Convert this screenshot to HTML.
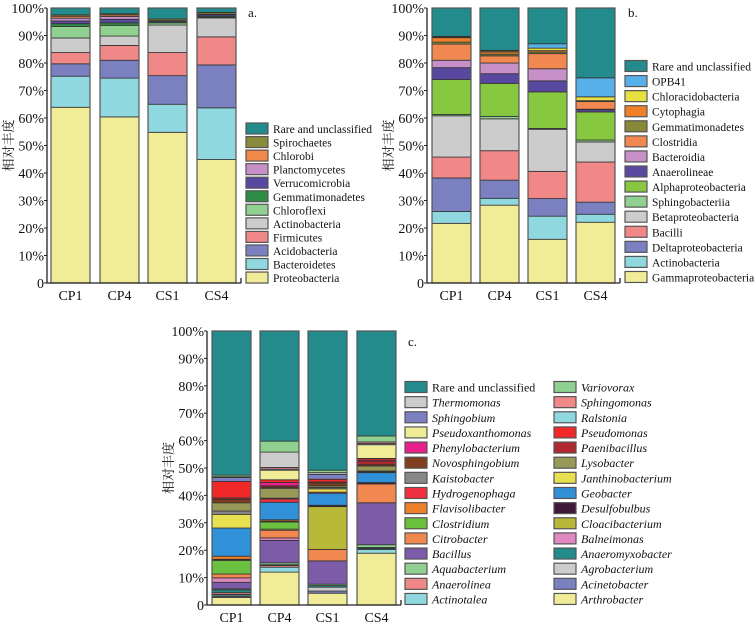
<!DOCTYPE html>
<html><head><meta charset="utf-8"><style>
body{margin:0;background:#fff;}
svg text{font-family:"Liberation Serif","Noto Serif CJK SC",serif;fill:#111;}
</style></head><body>
<svg id="chart" width="756" height="624" xmlns="http://www.w3.org/2000/svg"></svg>
<script>
const NS="http://www.w3.org/2000/svg";
const categories=["CP1","CP4","CS1","CS4"];
const yTicks=[0,10,20,30,40,50,60,70,80,90,100];
const yTickLabels=["0","10%","20%","30%","40%","50%","60%","70%","80%","90%","100%"];

// Panel a (bottom to top)
const aNames=["Proteobacteria","Bacteroidetes","Acidobacteria","Firmicutes","Actinobacteria","Chloroflexi","Gemmatimonadetes","Verrucomicrobia","Planctomycetes","Chlorobi","Spirochaetes","Rare and unclassified"];
const aColors=["#f0ec98","#90d8e0","#7a80c0","#f08888","#cccccc","#90d090","#2e8b45","#5848a0","#c890c8","#f08848","#8a8a3c","#238b8b"];
const aValues=[
[63.9,60.4,54.8,44.9],[11.3,14.1,10.2,18.8],[4.5,6.5,10.4,15.6],[4.1,5.4,8.4,10.2],
[5.3,3.4,10.0,6.9],[4.2,3.9,0.8,0.3],[1.0,0.9,0.4,0.4],[1.0,1.3,0.4,0.5],
[1.0,1.0,0,0],[0.7,0.6,0,0.2],[0.5,0.4,0.6,0.6],[2.5,2.1,4.0,1.6]];

// Panel b
const bNames=["Gammaproteobacteria","Actinobacteria","Deltaproteobacteria","Bacilli","Betaproteobacteria","Sphingobacteriia","Alphaproteobacteria","Anaerolineae","Bacteroidia","Clostridia","Gemmatimonadetes","Cytophagia","Chloracidobacteria","OPB41","Rare and unclassified"];
const bColors=["#f0ec98","#90d8e0","#7a80c0","#f08888","#cccccc","#90d090","#88c840","#5848a0","#c890c8","#f08850","#888838","#f08028","#e8e040","#58b0e8","#238b8b"];
const bValues=[
[21.7,28.3,15.9,22.1],[4.3,2.5,8.4,2.9],[12.2,6.6,6.4,4.4],[7.6,10.7,9.9,14.6],
[15.0,11.6,15.3,7.3],[0.5,0.9,0.3,0.7],[12.7,12.0,13.3,10.2],[4.3,3.5,4.0,0.8],
[2.7,3.9,4.4,0.2],[5.9,2.6,5.5,2.8],[0.7,0.6,0.6,0.1],[1.6,0.8,0.5,0.2],
[0.2,0.4,0.9,1.4],[0.3,0.2,1.6,6.9],[10.3,15.4,13.0,25.4]];

// Panel c (bottom to top)
const cNames=["Arthrobacter","Acinetobacter","Actinotalea","Agrobacterium","Anaerolinea","Anaeromyxobacter","Aquabacterium","Bacillus","Balneimonas","Citrobacter","Cloacibacterium","Clostridium","Desulfobulbus","Flavisolibacter","Geobacter","Hydrogenophaga","Janthinobacterium","Kaistobacter","Lysobacter","Novosphingobium","Paenibacillus","Phenylobacterium","Pseudomonas","Pseudoxanthomonas","Ralstonia","Sphingobium","Sphingomonas","Thermomonas","Variovorax","Rare and unclassified"];
const cColors=["#f0ec98","#7a80c0","#90d8e0","#cccccc","#f08888","#238b8b","#90d090","#7c5ca8","#e088c0","#f08850","#b8b838","#6cc040","#401838","#f08028","#3090d8","#f03040","#e8e050","#888888","#989858","#804020","#b02830","#e8208c","#f02828","#f0ec98","#90d8e0","#7a80c0","#f08888","#cccccc","#90d090","#238b8b"];
const cValues=[
[2.7,12.0,4.3,18.9],[0.4,0,0.8,0],[0.5,1.8,0,1.4],[0.3,0,1.4,0],[0.6,0.6,0,0.3],
[1.0,0.3,0.6,0.4],[0.4,0.7,0.5,1.0],[2.4,8.2,8.5,15.3],[1.6,0.9,0,0],[1.4,2.8,4.2,6.9],
[0,0.4,15.6,0],[5.0,2.6,0,0],[0.4,0.3,0.5,0.5],[1.1,0.5,0,0],[10.3,6.4,4.4,3.6],
[0,1.2,0.4,0],[5.0,0,1.2,0.3],[1.2,0.3,0.5,0.3],[3.0,3.6,0.6,1.8],[1.2,0.4,1.0,0.5],
[0.6,0.5,0.4,1.3],[0,1.2,0,0.4],[6.0,1.0,1.0,0.6],[0,3.5,0,5.0],[0,0,0,0],
[1.4,0.4,1.8,0.4],[0.3,0.6,0,0.6],[0,5.6,0.6,0],[0.6,4.0,0.9,2.2],[52.6,40.2,50.8,38.3]];
// Panel c legend order (column-major, as printed)
const cLegendOrder=["Rare and unclassified","Thermomonas","Sphingobium","Pseudoxanthomonas","Phenylobacterium","Novosphingobium","Kaistobacter","Hydrogenophaga","Flavisolibacter","Clostridium","Citrobacter","Bacillus","Aquabacterium","Anaerolinea","Actinotalea",
"Variovorax","Sphingomonas","Ralstonia","Pseudomonas","Paenibacillus","Lysobacter","Janthinobacterium","Geobacter","Desulfobulbus","Cloacibacterium","Balneimonas","Anaeromyxobacter","Agrobacterium","Acinetobacter","Arthrobacter"];

const svg=document.getElementById('chart');
function mk(tag,attrs,parent){const e=document.createElementNS(NS,tag);for(const k in attrs)e.setAttribute(k,attrs[k]);(parent||svg).appendChild(e);return e;}

function drawPanel(p,names,colors,values,legendOrder){
  const g=mk('g',{});
  
  
  const yS=v=>p.y0-(v/100)*(p.y0-p.y100);
  categories.forEach((c,ci)=>{
    let cum=0;
    const x=p.barX[ci];
    values.forEach((vals,si)=>{
      const v=vals[ci]; if(v<=0)return;
      const r=mk('rect',{x:x,y:yS(cum+v),width:p.barW,height:yS(cum)-yS(cum+v),fill:colors[si],stroke:'#333',"stroke-width":0.8},g);
      
      
      cum+=v;
    });
    const o=mk('rect',{x:x,y:yS(100),width:p.barW,height:yS(0)-yS(100),fill:'none',stroke:'#555',"stroke-width":1.2},g);
    
    
    const t=mk('text',{x:x+p.barW/2,y:p.y0+17,"text-anchor":"middle","font-size":14},g);
    t.textContent=c;
    
    
  });
  const ya=mk('line',{x1:p.ax,y1:p.y100,x2:p.ax,y2:p.y0,stroke:'#222',"stroke-width":1.3},g);
  
  
  const xa=mk('line',{x1:p.ax,y1:p.y0,x2:p.axEnd,y2:p.y0,stroke:'#222',"stroke-width":1.3},g);
  
  
  mk('line',{x1:p.axEnd,y1:p.y0,x2:p.axEnd,y2:p.y0-5,stroke:'#222',"stroke-width":1.3},g);
  yTicks.forEach((v,i)=>{
    mk('line',{x1:p.ax-3,y1:yS(v),x2:p.ax,y2:yS(v),stroke:'#222'},g);
    const t=mk('text',{x:p.ax-3,y:yS(v)+5,"text-anchor":"end","font-size":14},g);
    t.textContent=yTickLabels[i];
    
    
  });
  const yt=mk('text',{x:0,y:0,"text-anchor":"middle","font-size":13,transform:`translate(${p.ytX},${(p.y0+p.y100)/2}) rotate(-90)`},g);
  yt.textContent='相对丰度';
  
  
  const pl=mk('text',{x:p.lblX,y:p.lblY,"font-size":13},g);
  pl.textContent=p.id+'.';
  
  
  const order=legendOrder||names.slice().reverse();
  order.forEach((nm,k)=>{
    const si=names.indexOf(nm);
    const col=p.legCols?Math.floor(k/p.legRows):0;
    const row=p.legCols?k%p.legRows:k;
    const lx=p.legX[col], cy=p.legY+row*p.legStep;
    const lg=mk('g',{},g);
    
    
    mk('rect',{x:lx,y:cy-5.5,width:22,height:11,fill:colors[si],stroke:'#555',"stroke-width":1.2},lg);
    const t=mk('text',{x:lx+27,y:cy+4.5,"font-size":p.legFont,"font-style":(p.italic&&nm!=="Rare and unclassified")?'italic':'normal'},lg);
    t.textContent=nm;
  });
}
drawPanel({id:'a',ax:47,axEnd:241,y0:283,y100:8,barX:[51,100,148,197],barW:39,ytX:13,lblX:248,lblY:17,legX:[246],legY:128.5,legStep:13.55,legFont:11.5},aNames,aColors,aValues);
drawPanel({id:'b',ax:427,axEnd:620,y0:283,y100:8,barX:[432,480,528,576],barW:39,ytX:393,lblX:628,lblY:17,legX:[625],legY:66,legStep:15.07,legFont:11.5},bNames,bColors,bValues);
drawPanel({id:'c',ax:207,axEnd:401,y0:605,y100:331,barX:[212,260,308,357],barW:39,ytX:173,lblX:408,lblY:346,legX:[405,554],legY:387,legStep:15.14,legRows:15,legCols:2,legFont:12,italic:true},cNames,cColors,cValues,cLegendOrder);
</script>
</body></html>
